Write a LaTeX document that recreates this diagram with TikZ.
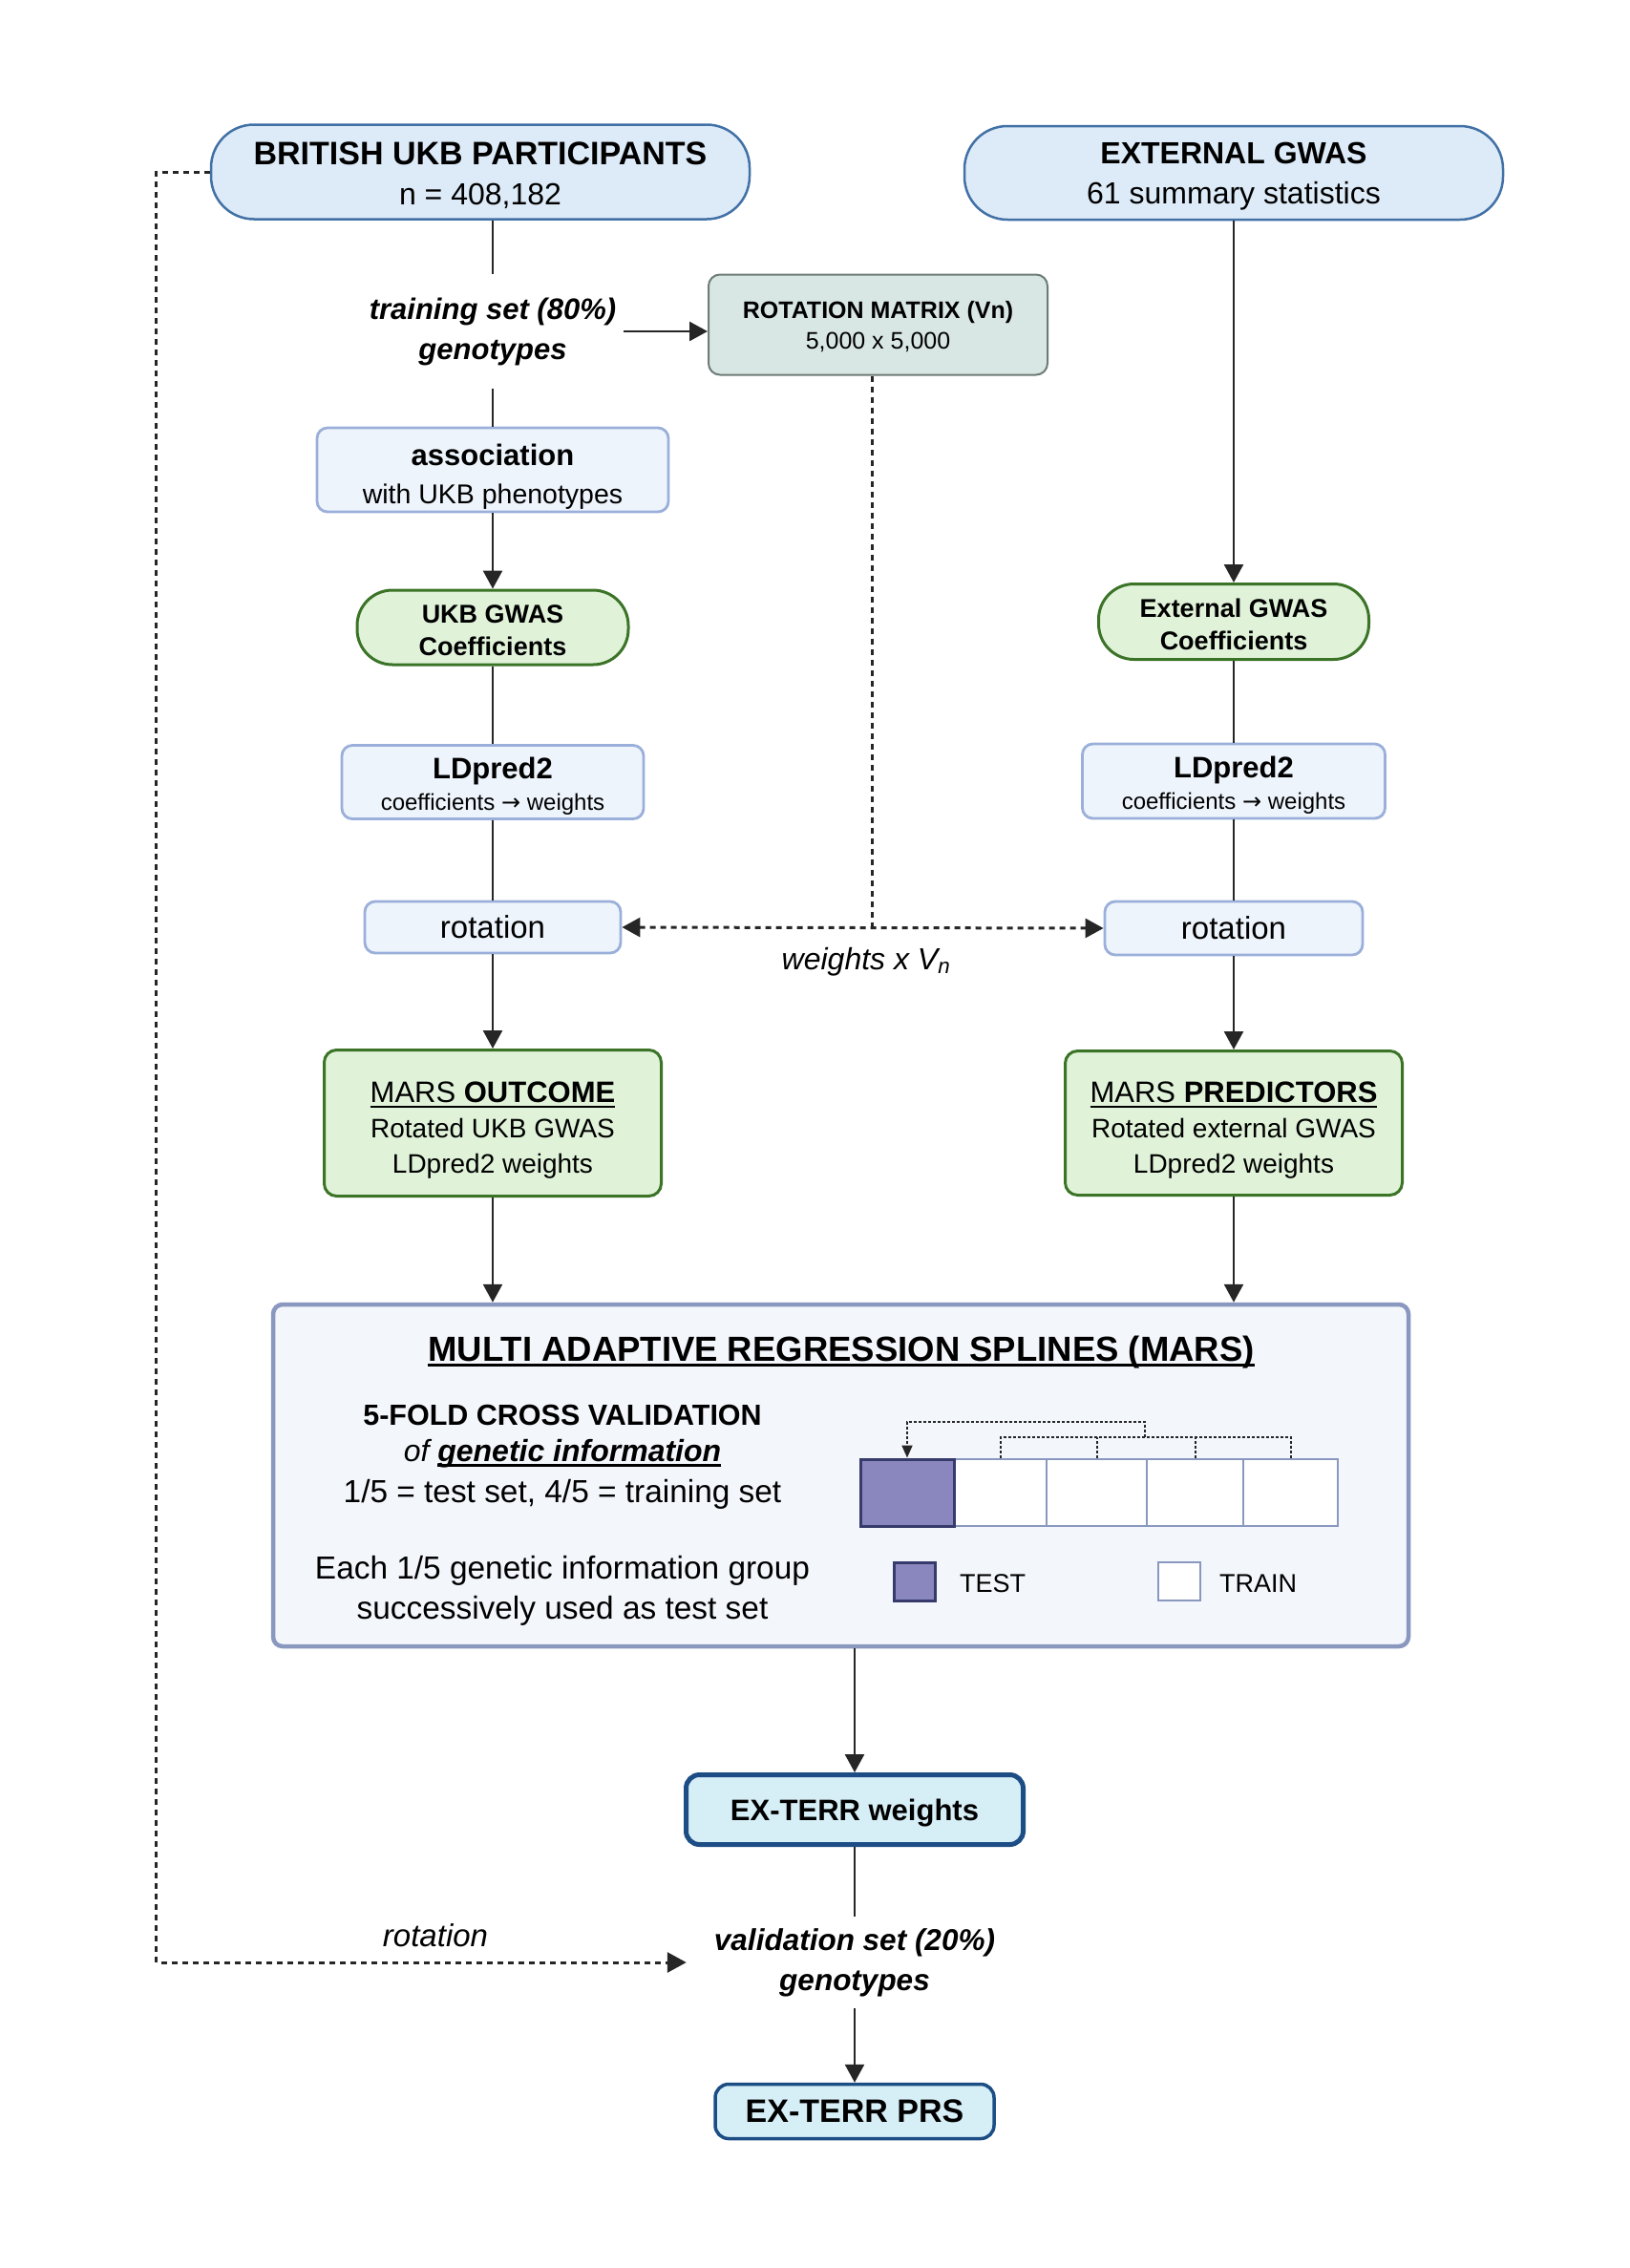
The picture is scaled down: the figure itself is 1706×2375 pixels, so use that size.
\documentclass[tikz,border=0pt]{standalone}
\usepackage{fontspec}
\setmainfont{Liberation Sans}
\newfontfamily\arrowfont{DejaVu Sans}
\usetikzlibrary{arrows.meta,calc}
\definecolor{topF}{HTML}{DDEBF8}
\definecolor{topB}{HTML}{4271A6}
\definecolor{lbF}{HTML}{EEF4FC}
\definecolor{lbB}{HTML}{9AAFD9}
\definecolor{grF}{HTML}{E0F3D9}
\definecolor{grB}{HTML}{3B7327}
\definecolor{rmF}{HTML}{D9E7E4}
\definecolor{rmB}{HTML}{6E7C78}
\definecolor{marsF}{HTML}{F3F6FB}
\definecolor{marsB}{HTML}{8A98C0}
\definecolor{exF}{HTML}{D6EEF6}
\definecolor{exB}{HTML}{1C4E85}
\definecolor{purF}{HTML}{8987BD}
\definecolor{purB}{HTML}{363B6B}
\definecolor{lineC}{HTML}{262626}
\newcommand\myfs[2]{\fontsize{#1}{#2}\selectfont}
\newcommand\myul[1]{\setbox0=\hbox{#1}\leavevmode\rlap{\rule[-6pt]{\wd0}{2.6pt}}\box0}
\newcommand\mystrut[1]{\rule{0pt}{#1}}
\tikzset{
  topbox/.style={draw=topB, fill=topF, line width=2.5pt, rounded corners=45pt, align=center, inner sep=0pt, font=\myfs{32}{42}},
  bluebox/.style={draw=lbB, fill=lbF, line width=2.8pt, rounded corners=11pt, align=center, inner sep=0pt},
  greenpill/.style={draw=grB, fill=grF, line width=3pt, rounded corners=37pt, align=center, inner sep=0pt},
  greenbox/.style={draw=grB, fill=grF, line width=3pt, rounded corners=13pt, align=center, inner sep=0pt},
  rmbox/.style={draw=rmB, fill=rmF, line width=2pt, rounded corners=12pt, align=center, inner sep=0pt},
  marsbox/.style={draw=marsB, fill=marsF, line width=4.5pt, rounded corners=10pt, inner sep=0pt},
  exbox/.style={draw=exB, fill=exF, rounded corners=14pt, align=center, inner sep=0pt},
  cell/.style={draw=marsB, fill=white, line width=2.5pt, inner sep=0pt, minimum height=70pt},
  conn/.style={draw=lineC, line width=2.6pt},
  arr/.style={conn, -{Triangle[length=19pt,width=20pt]}},
  dsh/.style={draw=lineC, line width=3pt, dash pattern=on 6pt off 5pt},
  dotl/.style={draw=lineC, line width=2pt, dash pattern=on 3pt off 2pt},
  plain/.style={inner sep=0pt, anchor=base},
}
\begin{document}
\begin{tikzpicture}[x=1pt,y=-1pt]
\useasboundingbox (0,0) rectangle (1706,2375);

% top boxes
\node[topbox, minimum width=564pt, minimum height=99pt] (ukb) at (503,180)
  {{\myfs{34}{42}\bfseries\mystrut{31.6pt}BRITISH UKB PARTICIPANTS}\\n = 408,182};
\node[topbox, minimum width=564pt, minimum height=98pt] (ext) at (1292,181)
  {{\myfs{32}{42}\bfseries\mystrut{30pt}EXTERNAL GWAS}\\61 summary statistics};

% training set
\node[align=center, font=\myfs{31}{42}\bfseries\itshape, inner xsep=8pt, inner ysep=24pt] (train) at (516,347)
  {training set (80\%)\\genotypes};

% rotation matrix
\node[rmbox, minimum width=355pt, minimum height=105pt, font=\myfs{25}{32}] (rotm) at (919.5,340)
  {{\bfseries\mystrut{22.3pt}ROTATION MATRIX (Vn)}\\5,000 x 5,000};

% left column
\node[bluebox, minimum width=368pt, minimum height=88pt, font=\myfs{28.5}{40}] (assoc) at (516,492)
  {{\myfs{31}{40}\bfseries\mystrut{36pt}association}\\with UKB phenotypes};
\node[greenpill, minimum width=284pt, minimum height=78pt, font=\myfs{27}{34}\bfseries] (ukbg) at (516,657)
  {\mystrut{25.5pt}UKB GWAS\\Coefficients};
\node[bluebox, minimum width=316pt, minimum height=77pt, font=\myfs{24}{33}] (ldL) at (516,819)
  {{\myfs{31}{33}\bfseries\mystrut{30.4pt}LDpred2}\\coefficients {\arrowfont →} weights};
\node[bluebox, minimum width=268pt, minimum height=54pt, font=\myfs{33}{40}] (rotL) at (516,971) {rotation};
\node[greenbox, minimum width=353pt, minimum height=153pt, font=\myfs{28}{37}] (outcome) at (516,1176)
  {{\myfs{31}{37}\mystrut{36.4pt}\myul{MARS \textbf{OUTCOME}}}\\Rotated UKB GWAS\\LDpred2 weights};

% right column
\node[greenpill, minimum width=283pt, minimum height=79pt, font=\myfs{27}{34}\bfseries] (extc) at (1292,651)
  {\mystrut{25.5pt}External GWAS\\Coefficients};
\node[bluebox, minimum width=317pt, minimum height=78pt, font=\myfs{24}{33}] (ldR) at (1292,818)
  {{\myfs{31}{33}\bfseries\mystrut{30.4pt}LDpred2}\\coefficients {\arrowfont →} weights};
\node[bluebox, minimum width=270pt, minimum height=56pt, font=\myfs{33}{40}] (rotR) at (1292,972) {rotation};
\node[greenbox, minimum width=353pt, minimum height=151pt, font=\myfs{28}{37}] (pred) at (1292,1176)
  {{\myfs{31}{37}\mystrut{36.4pt}\myul{MARS \textbf{PREDICTORS}}}\\Rotated external GWAS\\LDpred2 weights};

% weights x Vn
\coordinate (jn) at (913,971);
\node[inner sep=0pt, font=\myfs{32}{38}\itshape] (wxv) at (907,1007) {weights x V\textsubscript{n}};

% MARS box
\node[marsbox, minimum width=1189pt, minimum height=358pt] (mars) at (880.5,1545) {};
\node[plain, font=\myfs{36.5}{44}\bfseries] (title) at (881,1425) {\myul{MULTI ADAPTIVE REGRESSION SPLINES (MARS)}};
\node[plain, font=\myfs{30.5}{40}\bfseries] (cv1) at (589,1492) {5-FOLD CROSS VALIDATION};
\node[plain, font=\myfs{32}{40}\itshape] (cv2) at (589,1530) {of \myul{\bfseries genetic information}};
\node[plain, font=\myfs{33.4}{40}] (cv3) at (589,1573) {1/5 = test set, 4/5 = training set};
\node[plain, font=\myfs{33.4}{40}] (cv4) at (589,1653) {Each 1/5 genetic information group};
\node[plain, font=\myfs{33.4}{40}] (cv5) at (589,1695) {successively used as test set};

% folds
\node[cell, minimum width=97pt] (f2) at (1047.5,1563) {};
\node[cell, minimum width=105pt] (f3) at (1148.5,1563) {};
\node[cell, minimum width=101pt] (f4) at (1251.5,1563) {};
\node[cell, minimum width=99pt] (f5) at (1351.5,1563) {};
\node[cell, draw=purB, fill=purF, line width=3pt, minimum width=98pt] (f1) at (950,1563) {};
\coordinate (b1) at (1199,1489);
\coordinate (b2) at (1199,1505);
\draw[dotl] (f2.north) -- (f2.north |- b2) -- (f5.north |- b2) -- (f5.north);
\draw[dotl] (f3.north) -- (f3.north |- b2);
\draw[dotl] (f4.north) -- (f4.north |- b2);
\draw[dotl, -{Triangle[length=13pt,width=11pt]}] (b2) -- (b1) -- (f1.north |- b1) -- (f1.north);

% legend
\node[draw=purB, fill=purF, line width=3pt, minimum width=43pt, minimum height=40pt, inner sep=0pt] (testsq) at (957.5,1656) {};
\node[plain, anchor=base west, font=\myfs{27}{32}] (testlab) at (1005,1667) {TEST};
\node[draw=marsB, fill=white, line width=2.5pt, minimum width=44pt, minimum height=40pt, inner sep=0pt] (trainsq) at (1235,1656) {};
\node[plain, anchor=base west, font=\myfs{27}{32}] (trainlab) at (1277,1667) {TRAIN};

% bottom
\node[exbox, line width=5pt, minimum width=353pt, minimum height=73pt, font=\myfs{31}{38}\bfseries] (wts) at (895,1895) {\mystrut{28.6pt}EX-TERR weights};
\node[align=center, font=\myfs{31.5}{42}\bfseries\itshape, inner xsep=29pt, inner ysep=12pt] (val) at (895,2055)
  {validation set (20\%)\\genotypes};
\node[exbox, line width=3.5pt, minimum width=292pt, minimum height=57pt, font=\myfs{34}{40}\bfseries] (prs) at (895,2211) {EX-TERR PRS};
\node[inner sep=0pt, font=\myfs{33}{40}\itshape] (rotlab) at (456,2027) {rotation};

% connectors
\draw[conn] (ukb.south -| train.north) -- (train.north);
\draw[conn] (train.south) -- (assoc.north);
\draw[arr] (train.east) -- (train.east -| rotm.west);
\draw[arr] (assoc.south) -- (ukbg.north);
\draw[conn] (ukbg.south) -- (ldL.north);
\draw[conn] (ldL.south) -- (rotL.north);
\draw[arr] (rotL.south) -- (outcome.north);
\draw[arr] (outcome.south) -- (outcome.south |- mars.north);
\draw[arr] (ext.south) -- (extc.north);
\draw[conn] (extc.south) -- (ldR.north);
\draw[conn] (ldR.south) -- (rotR.north);
\draw[arr] (rotR.south) -- (pred.north);
\draw[arr] (pred.south) -- (pred.south |- mars.north);
\draw[arr] (wts.north |- mars.south) -- (wts.north);
\draw[conn] (wts.south) -- (val.north);
\draw[arr] (val.south) -- (prs.north);
\draw[dsh] (rotm.south -| jn) -- (jn);
\draw[dsh, {Triangle[length=19pt,width=20pt]}-{Triangle[length=19pt,width=20pt]}] (rotL.east) -- (rotR.west);
\draw[dsh, -{Triangle[length=20pt,width=21pt]}] (ukb.west) -- ++(-56,0) |- (val.west);
\end{tikzpicture}
\end{document}
